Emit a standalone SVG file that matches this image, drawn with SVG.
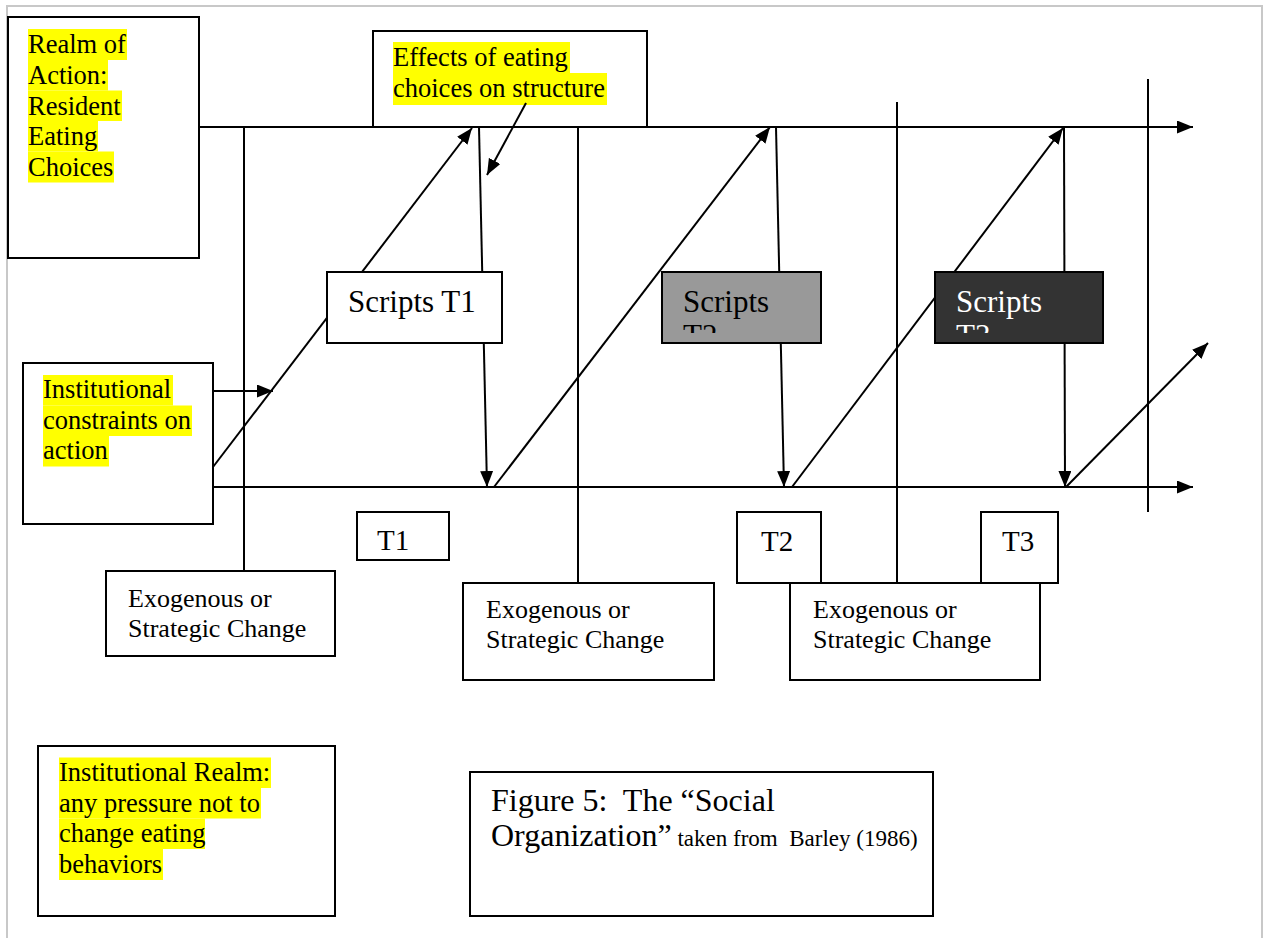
<svg xmlns="http://www.w3.org/2000/svg" width="1264" height="938" viewBox="0 0 1264 938">
<style>
.box{fill:#fff;stroke:#000;stroke-width:2}
.ln{stroke:#000;stroke-width:2;fill:none}
.ar{stroke:#000;stroke-width:2;fill:none;marker-end:url(#ah)}
.t{font-family:"Liberation Serif","Times New Roman",serif;fill:#000}
.m{font-size:26.5px}
.s{font-size:31px}
.hl{fill:#ffff00}
</style>
<defs>
<marker id="ah" markerUnits="userSpaceOnUse" markerWidth="17" markerHeight="14" refX="16" refY="6.5" orient="auto">
<path d="M0,0 L16,6.5 L0,13 Z" fill="#000"/>
</marker>
<clipPath id="c2"><rect x="662" y="272" width="159" height="61"/></clipPath>
<clipPath id="c3"><rect x="935" y="272" width="168" height="61"/></clipPath>
</defs>
<rect width="1264" height="938" fill="#fff"/>
<rect x="7" y="6" width="1255" height="940" fill="none" stroke="#c8c8c8" stroke-width="2"/>

<g id="connectors">
<line class="ar" x1="199" y1="127" x2="1193" y2="127"/>
<line class="ar" x1="213" y1="487" x2="1193" y2="487"/>
<line class="ar" x1="213" y1="391" x2="273" y2="391"/>
<line class="ar" x1="213" y1="467" x2="472" y2="128"/>
<line class="ar" x1="479" y1="127" x2="487" y2="487"/>
<line class="ar" x1="494" y1="487" x2="770" y2="127"/>
<line class="ar" x1="776" y1="127" x2="784" y2="487"/>
<line class="ar" x1="792" y1="487" x2="1063" y2="128"/>
<line class="ar" x1="1064" y1="127" x2="1065" y2="487"/>
<line class="ar" x1="1066" y1="487" x2="1208" y2="343"/>
<line class="ln" x1="1148" y1="79" x2="1148" y2="512"/>
<line class="ln" x1="244" y1="127" x2="244" y2="571"/>
<line class="ln" x1="578" y1="127" x2="578" y2="583"/>
<line class="ln" x1="897" y1="102" x2="897" y2="583"/>
</g>

<g id="realm-action">
<rect class="box" x="8" y="17" width="191" height="241"/>
<rect class="hl" x="28" y="29" width="99" height="31"/>
<rect class="hl" x="28" y="60" width="80" height="30.5"/>
<rect class="hl" x="28" y="90.5" width="94" height="30.5"/>
<rect class="hl" x="28" y="121" width="70" height="30.5"/>
<rect class="hl" x="28" y="151.5" width="86" height="31"/>
<text class="t m" x="28"><tspan x="28" y="53">Realm of</tspan><tspan x="28" y="84">Action:</tspan><tspan x="28" y="114.5">Resident</tspan><tspan x="28" y="145">Eating</tspan><tspan x="28" y="175.5">Choices</tspan></text>
</g>

<g id="effects">
<rect x="373" y="31" width="274" height="96" fill="none" stroke="#000" stroke-width="2"/>
<rect class="hl" x="393" y="42" width="177" height="31"/>
<rect class="hl" x="393" y="73" width="214" height="32"/>
<text class="t m"><tspan x="393" y="65.5">Effects of eating</tspan><tspan x="393" y="97">choices on structure</tspan></text>
<line class="ar" x1="526" y1="103" x2="487" y2="175"/>
</g>

<g id="inst-constraints">
<rect class="box" x="23" y="363" width="190" height="161"/>
<rect class="hl" x="43" y="375" width="130" height="30.5"/>
<rect class="hl" x="43" y="405.5" width="149" height="30.5"/>
<rect class="hl" x="43" y="436" width="66" height="30.5"/>
<text class="t m"><tspan x="43" y="398">Institutional</tspan><tspan x="43" y="428.5">constraints on</tspan><tspan x="43" y="459">action</tspan></text>
</g>

<g id="scripts-t1">
<rect class="box" x="327" y="272" width="175" height="71"/>
<text class="t s" x="348" y="312">Scripts T1</text>
</g>

<g id="scripts-t2">
<rect x="662" y="272" width="159" height="71" fill="#999999" stroke="#000" stroke-width="2"/>
<text class="t s" clip-path="url(#c2)"><tspan x="683" y="312">Scripts</tspan><tspan x="683" y="346">T2</tspan></text>
</g>

<g id="scripts-t3">
<rect x="935" y="272" width="168" height="71" fill="#333333" stroke="#000" stroke-width="2"/>
<text class="t s" style="fill:#fff" clip-path="url(#c3)"><tspan x="956" y="312">Scripts</tspan><tspan x="956" y="346">T3</tspan></text>
</g>

<g id="t1">
<rect class="box" x="357" y="512" width="92" height="48"/>
<text class="t" font-size="29" x="377" y="550">T1</text>
</g>
<g id="t2">
<rect class="box" x="737" y="512" width="84" height="71"/>
<text class="t" font-size="29" x="761" y="551">T2</text>
</g>
<g id="t3">
<rect class="box" x="981" y="512" width="77" height="71"/>
<text class="t" font-size="29" x="1002" y="551">T3</text>
</g>

<g id="exo1">
<rect class="box" x="106" y="571" width="229" height="85"/>
<text class="t" font-size="26"><tspan x="128" y="607">Exogenous or</tspan><tspan x="128" y="637">Strategic Change</tspan></text>
</g>
<g id="exo2">
<rect class="box" x="463" y="583" width="251" height="97"/>
<text class="t" font-size="26"><tspan x="486" y="618">Exogenous or</tspan><tspan x="486" y="648">Strategic Change</tspan></text>
</g>
<g id="exo3">
<rect class="box" x="790" y="583" width="250" height="97"/>
<text class="t" font-size="26"><tspan x="813" y="618">Exogenous or</tspan><tspan x="813" y="648">Strategic Change</tspan></text>
</g>

<g id="inst-realm">
<rect class="box" x="38" y="746" width="297" height="170"/>
<rect class="hl" x="59" y="757.5" width="212" height="30.5"/>
<rect class="hl" x="59" y="788" width="202" height="30.5"/>
<rect class="hl" x="59" y="818.5" width="146" height="30.5"/>
<rect class="hl" x="59" y="849" width="104" height="31"/>
<text class="t m"><tspan x="59" y="781">Institutional Realm:</tspan><tspan x="59" y="811.5">any pressure not to</tspan><tspan x="59" y="842">change eating</tspan><tspan x="59" y="872.5">behaviors</tspan></text>
</g>

<g id="caption">
<rect class="box" x="470" y="772" width="463" height="144"/>
<text class="t" font-size="32" xml:space="preserve"><tspan x="491" y="811">Figure 5:  The “Social</tspan><tspan x="491" y="846">Organization”<tspan font-size="23"> taken from  Barley (1986)</tspan></tspan></text>
</g>
</svg>
